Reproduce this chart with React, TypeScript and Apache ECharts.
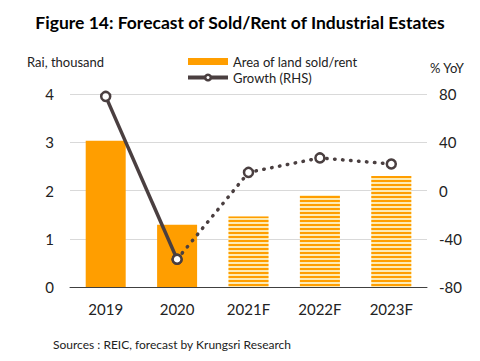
import React, { useEffect, useRef } from "react";
import * as echarts from "echarts";

const categories = ["2019", "2020", "2021F", "2022F", "2023F"];
const areaSold = [3.03, 1.29, 1.46, 1.9, 2.3];
const forecastFlags = [false, false, true, true, true];
const growthActual = [78, -57, null, null, null];
const growthForecast = [null, -57, 15, 27, 22];
const leftTicks = [0, 1, 2, 3, 4];
const rightTicks = [-80, -40, 0, 40, 80];

const FONT = "Lato";
const ORANGE = "#FF9E00";
const LIGHT = "#FDEBB5";
const LINE = "#4A3F40";

export default function App() {
  const ref = useRef<HTMLDivElement>(null);
  useEffect(() => {
    if (!ref.current) return;
    const chart = echarts.init(ref.current, undefined, { renderer: "svg" });
    const barData = areaSold.map((v, i) =>
      forecastFlags[i]
        ? {
            value: v,
            itemStyle: {
              color: LIGHT,
              decal: {
                symbol: "rect",
                symbolSize: 1,
                color: ORANGE,
                dashArrayX: [1, 0],
                dashArrayY: [2, 1.5],
                rotation: 0,
              },
            },
          }
        : { value: v, itemStyle: { color: ORANGE } }
    );
    chart.setOption({
      animation: false,
      textStyle: { fontFamily: FONT },
      title: {
        text: "Figure 14: Forecast of Sold/Rent of Industrial Estates",
        left: "center",
        top: 8,
        textStyle: { fontFamily: FONT, fontSize: 17.5, fontWeight: "bold", color: "#000" },
      },
      legend: {
        orient: "vertical",
        left: 181,
        top: 50,
        itemGap: 3,
        itemWidth: 40,
        itemHeight: 7,
        lineStyle: { width: 4, color: LINE },
        textStyle: { fontFamily: FONT, fontSize: 13, color: "#222" },
        data: [
          { name: "Area of land sold/rent", icon: "rect", itemStyle: { color: ORANGE } },
          {
            name: "Growth (RHS)",
            itemStyle: { color: "#fff", borderColor: LINE, borderWidth: 2.5 },
          },
        ],
      },
      graphic: [
        {
          type: "text",
          left: 27,
          top: 55,
          style: { text: "Rai, thousand", fontFamily: FONT, fontSize: 13, fill: "#222" },
        },
        {
          type: "text",
          left: 430,
          top: 61,
          style: { text: "% YoY", fontFamily: FONT, fontSize: 13, fill: "#222" },
        },
        {
          type: "text",
          left: 53,
          top: 338,
          style: {
            text: "Sources : REIC, forecast by Krungsri Research",
            fontFamily: FONT,
            fontSize: 12,
            fontWeight: "normal",
            fill: "#222",
          },
        },
      ],
      grid: { left: 70, right: 53, top: 94, bottom: 74 },
      xAxis: {
        type: "category",
        data: categories,
        axisTick: { show: false },
        axisLine: { lineStyle: { color: "#404040", width: 1 } },
        axisLabel: { fontFamily: FONT, fontSize: 15, color: "#222", margin: 14 },
      },
      yAxis: [
        {
          type: "value",
          min: leftTicks[0],
          max: leftTicks[leftTicks.length - 1],
          interval: 1,
          axisLine: { show: false },
          axisTick: { show: false },
          splitLine: { lineStyle: { color: "#D9D9D9" } },
          axisLabel: { fontFamily: FONT, fontSize: 15, color: "#222", margin: 16 },
        },
        {
          type: "value",
          min: rightTicks[0],
          max: rightTicks[rightTicks.length - 1],
          interval: 40,
          axisLine: { show: false },
          axisTick: { show: false },
          splitLine: { show: false },
          axisLabel: { fontFamily: FONT, fontSize: 15, color: "#222", margin: 12 },
        },
      ],
      series: [
        {
          name: "Area of land sold/rent",
          type: "bar",
          data: barData,
          barWidth: 40,
          yAxisIndex: 0,
        },
        {
          name: "Growth (RHS)",
          type: "line",
          yAxisIndex: 1,
          data: growthActual,
          symbol: "circle",
          symbolSize: 9,
          showAllSymbol: true,
          lineStyle: { color: LINE, width: 3.5 },
          itemStyle: { color: "#fff", borderColor: LINE, borderWidth: 2.5 },
          z: 5,
        },
        {
          name: "Growth forecast",
          type: "line",
          yAxisIndex: 1,
          data: growthForecast,
          symbol: "circle",
          symbolSize: 9,
          showAllSymbol: true,
          lineStyle: { color: LINE, width: 3.5, type: [0.5, 7.5], cap: "round" },
          itemStyle: { color: "#fff", borderColor: LINE, borderWidth: 2.5 },
          z: 5,
        },
      ],
    });
    return () => chart.dispose();
  }, []);
  return <div ref={ref} style={{ width: 480, height: 361, margin: -8 }} />;
}
